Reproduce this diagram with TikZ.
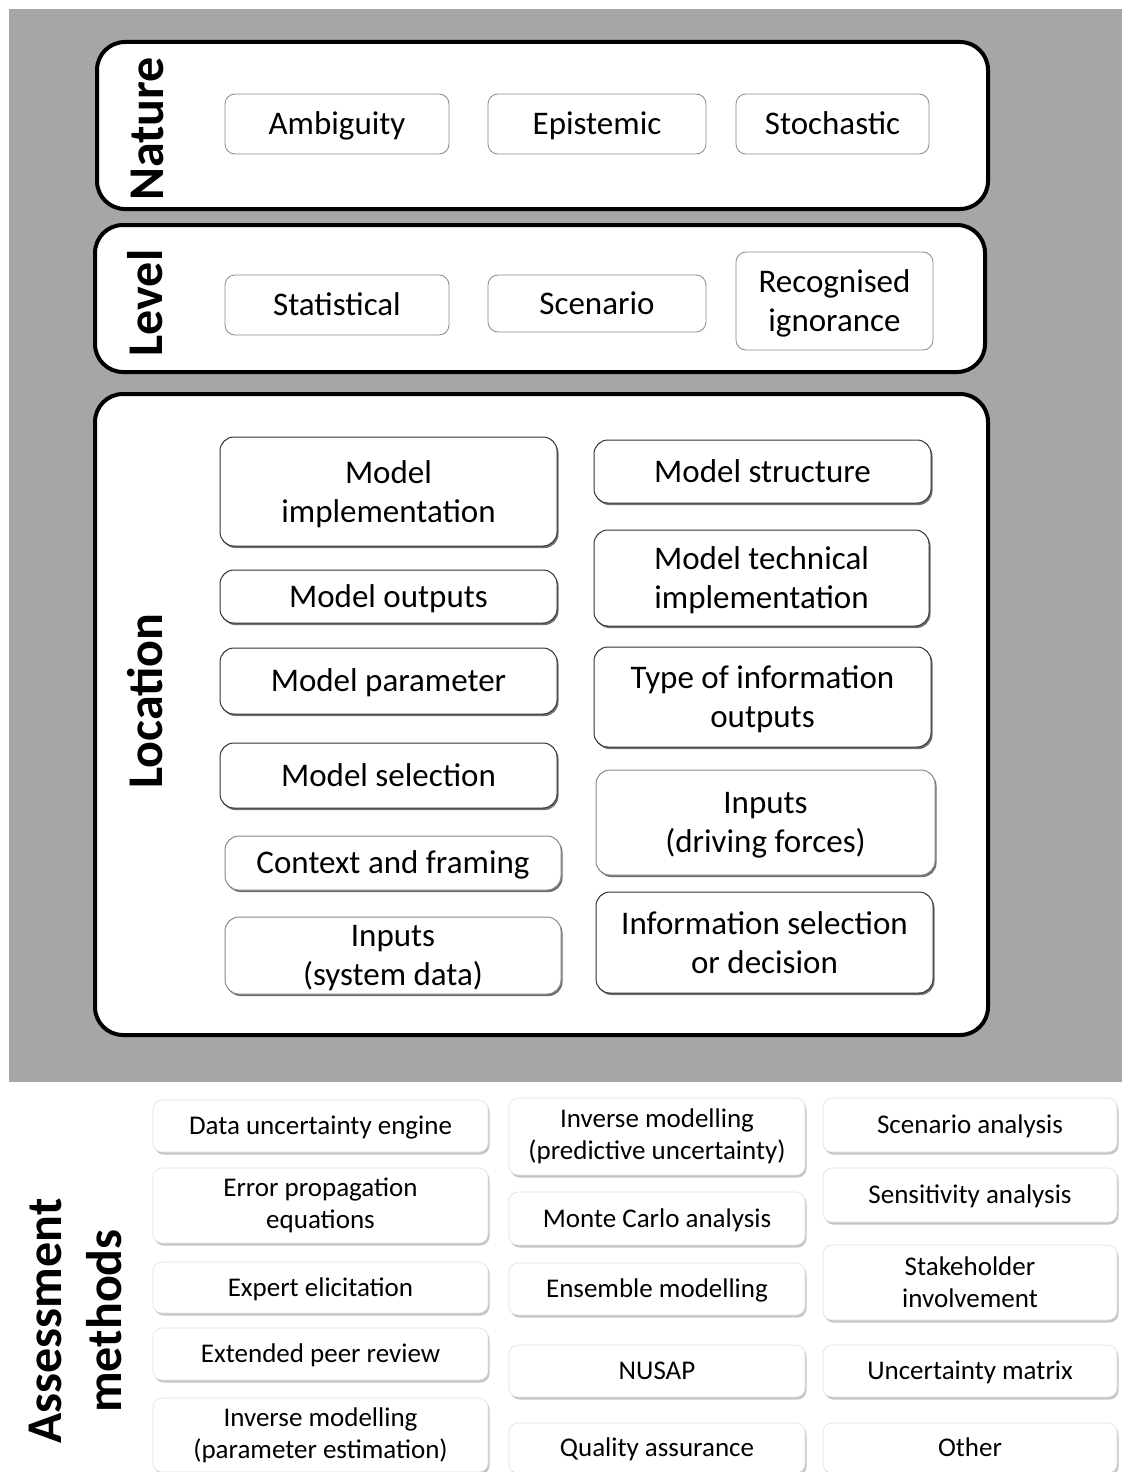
\documentclass[tikz,border=0pt]{standalone}
\usepackage{fontspec}
\setmainfont{Carlito}
\usepackage{xcolor}
\usepackage{tikz}
\usetikzlibrary{shadows}
\definecolor{bggray}{HTML}{A6A6A6}
\definecolor{thingray}{HTML}{8A8A8A}

\begin{document}
\begin{tikzpicture}[
  x=1pt,
  y=-1pt,
  group/.style={draw=black, line width=4pt, rounded corners=28pt, fill=white},
  head/.style={rotate=90, font=\bfseries\fontsize{50}{60}\selectfont, align=center},
  kind/.style={draw=thingray, line width=0.8pt, rounded corners=10pt, fill=white, align=center, inner sep=0pt, font=\fontsize{33}{39}\selectfont},
  loc/.style={draw=black!80, line width=1pt, rounded corners=14pt, fill=white, align=center, inner sep=0pt, font=\fontsize{33}{39}\selectfont, drop shadow={shadow xshift=1.5pt, shadow yshift=-2pt, fill=black!70, opacity=0.8}},
  locfaint/.style={loc, draw=thingray},
  method/.style={draw=black!12, line width=0.6pt, rounded corners=9pt, fill=white, align=center, inner sep=0pt, font=\fontsize{27}{32}\selectfont, drop shadow={shadow xshift=1.5pt, shadow yshift=-2.5pt, fill=black!45, opacity=0.5}},
  oneline/.style={text height=21.3pt, text depth=0pt},
  onesmall/.style={text height=17.4pt, text depth=0pt},
  twoline/.style={text depth=0pt}
]
\useasboundingbox (0,0) rectangle (1122,1472);
\fill[bggray] (9,9) rectangle (1122,1082);

\node[group, minimum width=891pt, minimum height=167pt] (nature) at (542.5,125.5) {};
\node[head] (naturehead) at (147,129) {Nature};
\node[kind, oneline, minimum width=224pt, minimum height=60pt] (ambiguity) at (337,124) {Ambiguity};
\node[kind, oneline, minimum width=218pt, minimum height=60pt] (epistemic) at (597,124) {Epistemic};
\node[kind, oneline, minimum width=193pt, minimum height=60pt] (stochastic) at (832.5,124) {Stochastic};

\node[group, minimum width=890pt, minimum height=147pt] (level) at (540,298.5) {};
\node[head] (levelhead) at (145,303) {Level};
\node[kind, oneline, minimum width=224pt, minimum height=60pt] (statistical) at (337,305) {Statistical};
\node[kind, oneline, minimum width=218pt, minimum height=57pt] (scenario) at (597,303.5) {Scenario};
\node[kind, twoline, minimum width=197pt, minimum height=98pt] (ignorance) at (834.5,301) {Recognised\\ignorance};

\node[group, minimum width=893pt, minimum height=641pt] (location) at (541.5,714.5) {};
\node[head] (locationhead) at (145,701) {Location};
\node[loc, twoline, minimum width=337pt, minimum height=109pt] (implementation) at (388.5,491.5) {Model\\implementation};
\node[loc, oneline, minimum width=337pt, minimum height=53pt] (outputs) at (388.5,596.5) {Model outputs};
\node[loc, oneline, minimum width=337pt, minimum height=66pt] (parameter) at (388.5,681) {Model parameter};
\node[loc, oneline, minimum width=337pt, minimum height=65pt] (selection) at (388.5,775.5) {Model selection};
\node[locfaint, oneline, minimum width=336pt, minimum height=54pt] (framing) at (393,863) {Context and framing};
\node[locfaint, twoline, minimum width=336pt, minimum height=77pt] (sysdata) at (393,955.5) {Inputs\\(system data)};
\node[loc, oneline, minimum width=337pt, minimum height=63pt] (structure) at (762.5,471.5) {Model structure};
\node[loc, twoline, minimum width=335pt, minimum height=96pt] (technical) at (761.5,578) {Model technical\\implementation};
\node[loc, twoline, minimum width=337pt, minimum height=100pt] (infotype) at (762.5,697) {Type of information\\outputs};
\node[locfaint, twoline, minimum width=339pt, minimum height=105pt] (driving) at (765.5,822.5) {Inputs\\(driving forces)};
\node[loc, twoline, minimum width=337pt, minimum height=101pt] (decision) at (764.5,942.5) {Information selection\\or decision};

\node[head] (methodshead) at (75,1321) {Assessment\\methods};
\node[method, onesmall, minimum width=335pt, minimum height=52pt] (engine) at (320.5,1126) {Data uncertainty engine};
\node[method, minimum width=335pt, minimum height=75pt] (errorprop) at (320.5,1205.5) {Error propagation\\equations};
\node[method, onesmall, minimum width=335pt, minimum height=51pt] (elicitation) at (320.5,1287.5) {Expert elicitation};
\node[method, onesmall, minimum width=335pt, minimum height=52pt] (peerreview) at (320.5,1354) {Extended peer review};
\node[method, minimum width=335pt, minimum height=74pt] (invparam) at (320.5,1435) {Inverse modelling\\(parameter estimation)};
\node[method, minimum width=296pt, minimum height=77pt] (invpred) at (657,1136.5) {Inverse modelling\\(predictive uncertainty)};
\node[method, onesmall, minimum width=296pt, minimum height=53pt] (montecarlo) at (657,1218.5) {Monte Carlo analysis};
\node[method, onesmall, minimum width=296pt, minimum height=52pt] (ensemble) at (657,1289) {Ensemble modelling};
\node[method, onesmall, minimum width=296pt, minimum height=52pt] (nusap) at (657,1371) {NUSAP};
\node[method, onesmall, minimum width=296pt, minimum height=50pt] (quality) at (657,1448) {Quality assurance};
\node[method, onesmall, minimum width=294pt, minimum height=54pt] (scenarioan) at (970,1125) {Scenario analysis};
\node[method, onesmall, minimum width=294pt, minimum height=54pt] (sensitivity) at (970,1195) {Sensitivity analysis};
\node[method, minimum width=294pt, minimum height=75pt] (stakeholder) at (970,1282.5) {Stakeholder\\involvement};
\node[method, onesmall, minimum width=294pt, minimum height=52pt] (matrix) at (970,1371) {Uncertainty matrix};
\node[method, onesmall, minimum width=294pt, minimum height=50pt] (other) at (970,1448) {Other};
\end{tikzpicture}
\end{document}
